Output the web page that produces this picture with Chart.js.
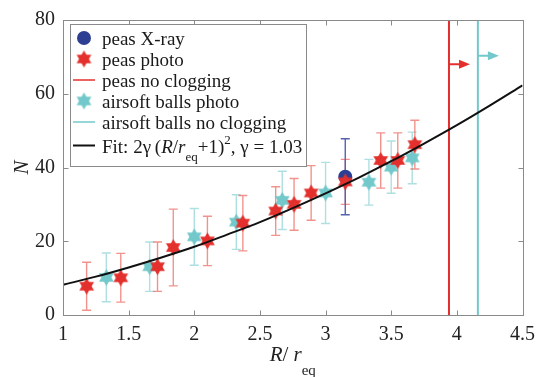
<!DOCTYPE html>
<html>
<head>
<meta charset="utf-8">
<script src="https://cdn.jsdelivr.net/npm/chart.js@4/dist/chart.umd.min.js"></script>
<style>
  html, body { margin: 0; padding: 0; background: #fff; }
  canvas { display: block; }
</style>
</head>
<body>
<canvas id="c" width="543" height="377"></canvas>
<script>
// ---- data ----
const peasXrayR   = [3.15];
const peasXrayN   = [37.5];
const peasXrayErr = [10.3];

const peasPhotoR   = [1.18, 1.44, 1.72, 1.84, 2.10, 2.37, 2.62, 2.76, 2.89, 3.15, 3.42, 3.55, 3.68];
const peasPhotoN   = [7.8, 10.1, 13.1, 18.3, 20.1, 24.9, 28.2, 30.0, 33.1, 36.1, 41.9, 41.9, 46.2];
const peasPhotoErr = [6.5, 6.6, 6.7, 10.4, 6.7, 7.5, 6.6, 7.0, 7.4, 6.1, 7.5, 7.5, 6.6];

const airsoftPhotoR   = [1.33, 1.66, 2.00, 2.32, 2.67, 3.00, 3.33, 3.50, 3.66];
const airsoftPhotoN   = [10.2, 13.1, 21.2, 25.2, 31.1, 33.1, 36.0, 40.1, 42.6];
const airsoftPhotoErr = [6.6, 6.7, 7.7, 7.4, 7.9, 8.3, 6.2, 7.1, 7.0];

// no-clogging thresholds: [position, arrow level, arrow end]
const peasNoClog    = [3.94, 68.0, 4.10];
const airsoftNoClog = [4.16, 70.3, 4.32];

// fit curve
const fitR = [1.0, 1.25, 1.5, 1.75, 2.0, 2.25, 2.5, 2.75, 3.0, 3.25, 3.5, 3.75, 4.0, 4.25, 4.5];
const fitN = [8.2, 10.4, 12.9, 15.6, 18.5, 21.8, 25.2, 29.0, 33.0, 37.2, 41.7, 46.5, 51.5, 56.8, 62.3];

const xTicks = [1, 1.5, 2, 2.5, 3, 3.5, 4, 4.5];
const yTicks = [0, 20, 40, 60, 80];

// ---- styles ----
const RED = '#e3302c', RED_BAR = 'rgba(232,80,70,0.62)';
const CYAN = '#72c8ca', CYAN_BAR = 'rgba(120,202,205,0.6)';
const BLUE = '#2d3f92', BLUE_BAR = '#5563ad';
const SERIF = '"Liberation Serif", "Times New Roman", serif';

function makeStar(color, r) {
  const c = document.createElement('canvas');
  const s = Math.ceil(2 * r + 2);
  c.width = s; c.height = s;
  const ctx = c.getContext('2d');
  ctx.fillStyle = color;
  const cx = s / 2, cy = s / 2;
  for (let t = 0; t < 2; t++) {
    ctx.beginPath();
    for (let k = 0; k < 3; k++) {
      const a = (-90 + t * 180 + k * 120) * Math.PI / 180;
      const px = cx + r * Math.cos(a), py = cy + r * Math.sin(a);
      if (k === 0) ctx.moveTo(px, py); else ctx.lineTo(px, py);
    }
    ctx.closePath();
    ctx.fill();
  }
  return c;
}
const redStar = makeStar(RED, 8.5);
const cyanStar = makeStar(CYAN, 8.5);

const pts = (xs, ys) => xs.map((x, i) => ({ x: x, y: ys[i] }));

const decor = {
  id: 'decor',
  beforeDatasetsDraw(chart) {
    const ctx = chart.ctx, xs = chart.scales.x, ys = chart.scales.y;
    const bars = (X, Y, E, col) => {
      ctx.save();
      ctx.strokeStyle = col; ctx.lineWidth = 1.4;
      X.forEach((x, i) => {
        const px = xs.getPixelForValue(x);
        const t = ys.getPixelForValue(Y[i] + E[i]);
        const b = ys.getPixelForValue(Y[i] - E[i]);
        ctx.beginPath();
        ctx.moveTo(px, t); ctx.lineTo(px, b);
        ctx.moveTo(px - 4.5, t); ctx.lineTo(px + 4.5, t);
        ctx.moveTo(px - 4.5, b); ctx.lineTo(px + 4.5, b);
        ctx.stroke();
      });
      ctx.restore();
    };
    bars(airsoftPhotoR, airsoftPhotoN, airsoftPhotoErr, CYAN_BAR);
    bars(peasPhotoR, peasPhotoN, peasPhotoErr, RED_BAR);
    bars(peasXrayR, peasXrayN, peasXrayErr, BLUE_BAR);
  },
  afterDraw(chart) {
    const ctx = chart.ctx, xs = chart.scales.x, ys = chart.scales.y;
    const a = chart.chartArea;
    ctx.save();
    const head = (spec, col) => {
      const tip = xs.getPixelForValue(spec[2]);
      const y = ys.getPixelForValue(spec[1]);
      ctx.fillStyle = col;
      ctx.beginPath();
      ctx.moveTo(tip, y); ctx.lineTo(tip - 11, y - 4.5); ctx.lineTo(tip - 11, y + 4.5);
      ctx.closePath(); ctx.fill();
    };
    head(peasNoClog, RED);
    head(airsoftNoClog, CYAN);

    ctx.strokeStyle = '#8a8a8a'; ctx.lineWidth = 1;
    const L = Math.round(a.left) + 0.5, R = Math.round(a.right) + 0.5;
    const T = Math.round(a.top) + 0.5, B = Math.round(a.bottom) + 0.5;
    ctx.strokeRect(L, T, R - L, B - T);
    ctx.beginPath();
    xTicks.forEach(v => {
      const p = Math.round(xs.getPixelForValue(v)) + 0.5;
      ctx.moveTo(p, B); ctx.lineTo(p, B - 5);
      ctx.moveTo(p, T); ctx.lineTo(p, T + 5);
    });
    yTicks.forEach(v => {
      const p = Math.round(ys.getPixelForValue(v)) + 0.5;
      ctx.moveTo(L, p); ctx.lineTo(L + 5, p);
      ctx.moveTo(R, p); ctx.lineTo(R - 5, p);
    });
    ctx.stroke();

    ctx.fillStyle = '#222';
    ctx.textBaseline = 'alphabetic';
    const segs = [
      ['italic 21px ' + SERIF, 'R', 0],
      ['21px ' + SERIF, '/ ', 0],
      ['italic 21px ' + SERIF, 'r', 0],
      ['15px ' + SERIF, 'eq', 14]
    ];
    let w = 0;
    segs.forEach(s => { ctx.font = s[0]; w += ctx.measureText(s[1]).width; });
    let x = (a.left + a.right) / 2 - w / 2;
    segs.forEach(s => {
      ctx.font = s[0]; ctx.fillText(s[1], x, 361 + s[2]); x += ctx.measureText(s[1]).width;
    });
    ctx.save();
    ctx.translate(28, (a.top + a.bottom) / 2);
    ctx.rotate(-Math.PI / 2);
    ctx.font = 'italic 21px ' + SERIF;
    ctx.textAlign = 'center';
    ctx.fillText('N', 0, 0);
    ctx.restore();

    const bx = 70.5, by = 24.5, bw = 236, bh = 142;
    ctx.fillStyle = '#fff';
    ctx.fillRect(bx, by, bw, bh);
    ctx.strokeStyle = '#8a8a8a';
    ctx.strokeRect(bx, by, bw, bh);
    const tx = 102, mx = 84;
    const rows = [
      ['circle', 'peas X-ray', 38],
      ['rstar', 'peas photo', 59],
      ['rline', 'peas no clogging', 80],
      ['cstar', 'airsoft balls photo', 101],
      ['cline', 'airsoft balls no clogging', 122]
    ];
    const drawSym = (kind, y) => {
      if (kind === 'circle') {
        ctx.fillStyle = BLUE; ctx.beginPath(); ctx.arc(mx, y, 7, 0, Math.PI * 2); ctx.fill();
      } else if (kind === 'rstar') {
        ctx.drawImage(redStar, mx - redStar.width / 2, y - redStar.height / 2);
      } else if (kind === 'cstar') {
        ctx.drawImage(cyanStar, mx - cyanStar.width / 2, y - cyanStar.height / 2);
      } else {
        ctx.strokeStyle = kind === 'rline' ? RED : kind === 'cline' ? CYAN : '#111';
        ctx.lineWidth = kind === 'kline' ? 2 : 1.5;
        ctx.beginPath(); ctx.moveTo(73, y); ctx.lineTo(95, y); ctx.stroke();
      }
    };
    ctx.textAlign = 'left';
    rows.forEach(r => {
      drawSym(r[0], r[2]);
      ctx.fillStyle = '#1a1a1a';
      ctx.font = '19px ' + SERIF;
      ctx.fillText(r[1], tx, r[2] + 6.5);
    });
    drawSym('kline', 145.5);
    const fit = [
      ['19px ', 'Fit: 2\u03b3\u2009(', 0],
      ['italic 19px ', 'R', 0],
      ['19px ', '/', 0],
      ['italic 19px ', 'r', 0],
      ['13px ', 'eq', 8],
      ['19px ', '+1)', 0],
      ['13px ', '2', -9],
      ['19px ', ', \u03b3 = 1.03', 0]
    ];
    x = tx;
    ctx.fillStyle = '#1a1a1a';
    fit.forEach(s => {
      ctx.font = s[0] + SERIF; ctx.fillText(s[1], x, 152.5 + s[2]); x += ctx.measureText(s[1]).width;
    });
    ctx.restore();
  }
};

const tickFont = { family: SERIF, size: 20 };

new Chart(document.getElementById('c'), {
  type: 'scatter',
  data: {
    datasets: [
      { label: 'Fit', type: 'line', data: pts(fitR, fitN), borderColor: '#111', borderWidth: 2,
        pointRadius: 0, cubicInterpolationMode: 'monotone', fill: false },
      { label: 'peas photo', data: pts(peasPhotoR, peasPhotoN), pointStyle: redStar, pointRadius: 8 },
      { label: 'airsoft balls photo', data: pts(airsoftPhotoR, airsoftPhotoN), pointStyle: cyanStar, pointRadius: 8 },
      { label: 'peas X-ray', data: pts(peasXrayR, peasXrayN), pointStyle: 'circle', pointRadius: 7,
        backgroundColor: BLUE, borderColor: BLUE, borderWidth: 0 },
      { label: 'peas no clogging', type: 'line', data: [{ x: peasNoClog[0], y: 0 }, { x: peasNoClog[0], y: 80 }],
        borderColor: RED, borderWidth: 2, pointRadius: 0 },
      { label: 'peas arrow', type: 'line', data: [{ x: peasNoClog[0], y: peasNoClog[1] }, { x: peasNoClog[2] - 0.05, y: peasNoClog[1] }],
        borderColor: RED, borderWidth: 2, pointRadius: 0 },
      { label: 'airsoft balls no clogging', type: 'line', data: [{ x: airsoftNoClog[0], y: 0 }, { x: airsoftNoClog[0], y: 80 }],
        borderColor: CYAN, borderWidth: 2, pointRadius: 0 },
      { label: 'airsoft arrow', type: 'line', data: [{ x: airsoftNoClog[0], y: airsoftNoClog[1] }, { x: airsoftNoClog[2] - 0.05, y: airsoftNoClog[1] }],
        borderColor: CYAN, borderWidth: 2, pointRadius: 0 }
    ]
  },
  options: {
    responsive: false,
    devicePixelRatio: 1,
    animation: false,
    events: [],
    layout: { padding: { top: 19, right: 14, left: 0, bottom: 0 } },
    plugins: { legend: { display: false }, tooltip: { enabled: false } },
    scales: {
      x: {
        type: 'linear', min: 1, max: 4.5,
        afterBuildTicks: s => { s.ticks = xTicks.map(v => ({ value: v })); },
        afterFit: s => { s.height = 62; },
        ticks: { font: tickFont, color: '#222', padding: 8, maxRotation: 0, autoSkip: false,
                 callback: v => String(v) },
        grid: { display: false, drawTicks: false },
        border: { display: false }
      },
      y: {
        type: 'linear', min: 0, max: 80,
        afterBuildTicks: s => { s.ticks = yTicks.map(v => ({ value: v })); },
        afterFit: s => { s.width = 63; },
        ticks: { font: tickFont, color: '#222', padding: 8, callback: v => String(v) },
        grid: { display: false, drawTicks: false },
        border: { display: false }
      }
    }
  },
  plugins: [decor]
});
</script>
</body>
</html>
